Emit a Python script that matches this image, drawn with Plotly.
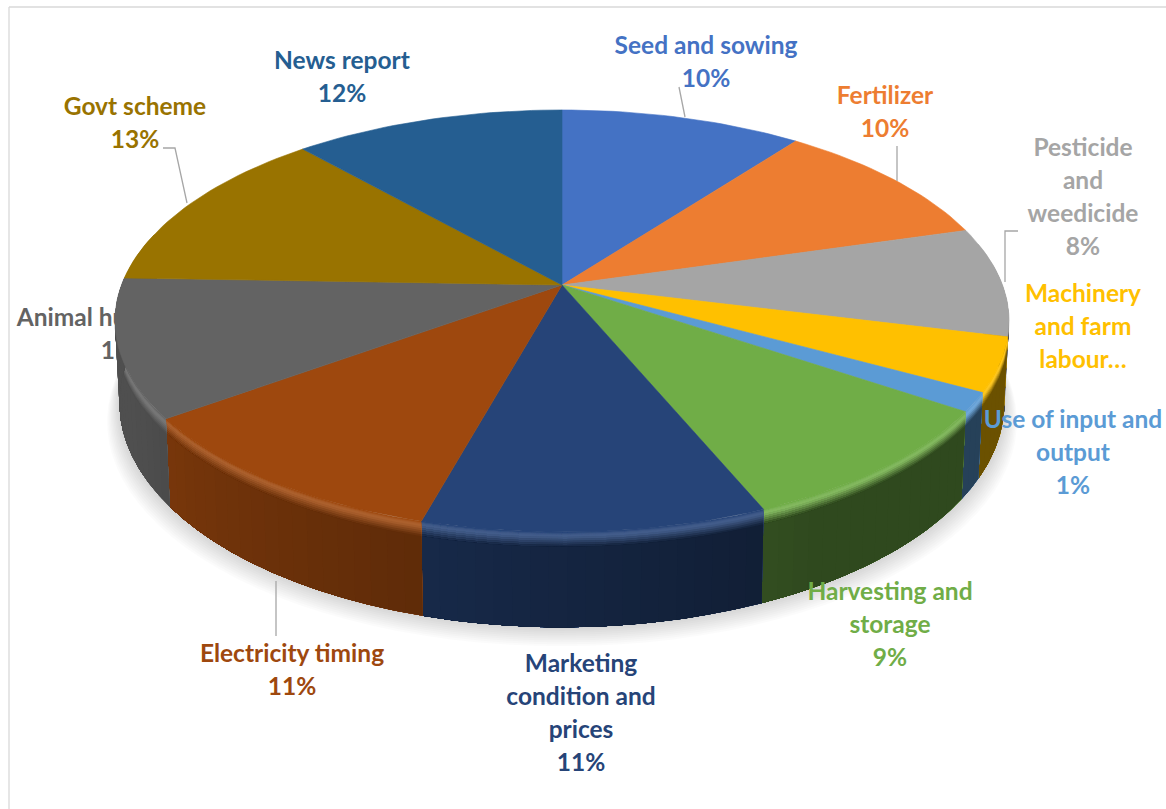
import math
import plotly.graph_objects as go

# Share of each information need, clockwise from twelve o'clock
names = ["Seed and sowing", "Fertilizer", "Pesticide and weedicide",
         "Machinery and farm labour", "Use of input and output",
         "Harvesting and storage", "Marketing condition and prices",
         "Electricity timing", "Animal husbandry", "Govt scheme", "News report"]
values = [10.3, 10.2, 8.4, 4.1, 1.45, 9.25, 10.6, 10.7, 10.55, 12.9, 11.55]
colours = ["#4472C4", "#ED7D31", "#A5A5A5", "#FFC000", "#5B9BD5", "#70AD47",
           "#264478", "#9E480E", "#636363", "#997300", "#255E91"]

# Wrapped name lines for each label
label_lines = [["Seed and sowing"], ["Fertilizer"], ["Pesticide", "and", "weedicide"],
               ["Machinery", "and farm", "labour…"], ["Use of input and", "output"],
               ["Harvesting and", "storage"], ["Marketing", "condition and", "prices"],
               ["Electricity timing"], ["Animal husbandry"], ["Govt scheme"], ["News report"]]
show_percent = [True, True, True, False, True, True, True, True, True, True, True]

# Label anchor: centre x, y of first line (pixels)
label_anchor = [(706, 48), (885, 98), (1083, 150), (1083, 296), (1073, 422), (890, 594),
                (581, 666), (292, 656), (115, 320), (135, 109), (342, 63)]
LINE_H = 32.8
FONT = "Lato"
FONT_SIZE = 24.5

# Leader lines (pixels)
leaders = [[(679, 87), (685, 117)], [(897, 146), (897, 181)],
           [(1018, 231), (1005, 231), (1005, 282)],
           [(163, 148), (175, 148), (187, 203)], [(276, 581), (276, 636)]]

# Perspective of the disc
CX, CY = 562, 285
A, C, B = 440.5, 204.9, 0.1706
DEPTH, XSHRINK = 79, 0.99


def rim(theta, t=0.0):
    """Point on the rim at angle theta; t runs from top face (0) to base (1)."""
    th = math.radians(theta)
    sx, sy = math.sin(th), math.cos(th)
    den = 1 + B * sy
    x0 = CX + A * sx / den
    y0 = CY - C * sy / den
    x1 = CX + A * XSHRINK * sx / den
    y1 = y0 + DEPTH / den
    return x0 + (x1 - x0) * t, y0 + (y1 - y0) * t


def depth_t(theta, d):
    return d / (DEPTH / (1 + B * math.cos(math.radians(theta))))


def rgb(h):
    return [int(h[i:i + 2], 16) for i in (1, 3, 5)]


def mix(c1, c2, k):
    return [c1[i] + (c2[i] - c1[i]) * k for i in range(3)]


def css(c):
    return "rgb(%d,%d,%d)" % tuple(round(v) for v in c)


def side_factor(theta):
    if theta <= 150:
        return 0.42
    if theta >= 245:
        return 0.80
    return 0.42 + (theta - 150) / 95 * 0.38


def side_colour(base, theta, d):
    side = [v * side_factor(theta) for v in base]
    glow = mix(base, [255, 255, 255], 0.13)
    if d < 3:
        return mix(base, glow, d / 3)
    if d < 5:
        return glow
    if d < 15:
        return mix(glow, side, (d - 5) / 10)
    return side


def polygon(xs, ys, fill, line=None):
    return go.Scatter(x=xs, y=ys, mode="lines", fill="toself", fillcolor=fill,
                      line=dict(color=line or "rgba(0,0,0,0)", width=0.6 if line else 0),
                      hoverinfo="skip", showlegend=False)


def text_trace(xs, ys, texts, colour):
    return go.Scatter(x=xs, y=ys, text=texts, mode="text", textposition="middle center",
                      textfont=dict(family=FONT, size=FONT_SIZE, color=colour, weight="bold"),
                      hoverinfo="skip", showlegend=False)


def label_trace(i):
    cx, y = label_anchor[i]
    lines = list(label_lines[i])
    if show_percent[i]:
        lines.append("%d%%" % round(values[i]))
    ys = [y + LINE_H * k for k in range(len(lines))]
    return text_trace([cx] * len(lines), ys, lines, colours[i])


fig = go.Figure()

# Soft shadow beneath the base
thetas = [k * 3 for k in range(121)]
for k in range(1, 11):
    xs, ys = [], []
    for th in thetas:
        x, y = rim(th, 1)
        xs.append(CX + (x - CX) * (1 + k * 0.0028))
        ys.append(y + k * 1.9)
    fig.add_trace(polygon(xs, ys, "rgba(0,0,0,0.016)"))

# The pie sits in front of this label
ANIMAL = names.index("Animal husbandry")
fig.add_trace(text_trace([label_anchor[ANIMAL][0]], [label_anchor[ANIMAL][1]],
                         [names[ANIMAL]], colours[ANIMAL]))
fig.add_trace(text_trace([125], [label_anchor[ANIMAL][1] + LINE_H],
                         ["%d%%" % round(values[ANIMAL])], colours[ANIMAL]))

total = sum(values)
edges = [0.0]
for v in values:
    edges.append(edges[-1] + v / total * 360)


def add_rim_band(base, lo, hi, d0, d_mid, step):
    """Paint one depth band of a slice's rim. Each step reaches to the slice end
    and the base, so later steps overlap earlier ones and no seam shows."""
    n = max(1, round((hi - lo) / step))
    for s in range(n):
        a0 = lo + (hi - lo) * s / n
        am = a0 + (hi - lo) / n / 2
        arc = [a0 + (hi - a0) * k / (n - s) / 2 for k in range(2 * (n - s) + 1)]
        top = [rim(a, depth_t(a, d0)) for a in arc]
        bot = [rim(a, 1.0) for a in arc[::-1]]
        pts = top + bot
        col = css(side_colour(base, am, d_mid))
        fig.add_trace(go.Scatter(x=[p[0] for p in pts] + [pts[0][0]],
                                 y=[p[1] for p in pts] + [pts[0][1]],
                                 mode="lines", fill="toself", fillcolor=col,
                                 line=dict(width=0, color=col),
                                 hoverinfo="skip", showlegend=False))


# Rim of the disc: fine angular steps on the wall, coarser in the bevel
bevel = [0, 1, 2, 3, 5, 7, 9, 11, 13, 15]
for i, hexcol in enumerate(colours):
    base = rgb(hexcol)
    lo, hi = max(edges[i], 78), min(edges[i + 1], 285)
    if hi <= lo:
        continue
    for d0, d1 in zip(bevel[:-1], bevel[1:]):
        add_rim_band(base, lo, hi, d0, (d0 + d1) / 2, 6)
    add_rim_band(base, lo, hi, 15, 100, 2)

# Top face of each slice
for i, hexcol in enumerate(colours):
    n = max(2, int((edges[i + 1] - edges[i]) / 1.5))
    arc = [rim(edges[i] + (edges[i + 1] - edges[i]) * k / n) for k in range(n + 1)]
    fig.add_trace(polygon([CX] + [p[0] for p in arc] + [CX],
                          [CY] + [p[1] for p in arc] + [CY], hexcol, hexcol))

# Leader lines
for pts in leaders:
    fig.add_trace(go.Scatter(x=[p[0] for p in pts], y=[p[1] for p in pts], mode="lines",
                             line=dict(color="#A6A6A6", width=1.3),
                             hoverinfo="skip", showlegend=False))

# Remaining labels
for i in range(len(names)):
    if i != ANIMAL:
        fig.add_trace(label_trace(i))

fig.update_layout(
    width=1166, height=809, margin=dict(l=0, r=0, t=0, b=0),
    paper_bgcolor="white", plot_bgcolor="white", showlegend=False,
    xaxis=dict(range=[0, 1166], visible=False, fixedrange=True),
    yaxis=dict(range=[809, 0], visible=False, fixedrange=True),
    shapes=[dict(type="line", xref="x", yref="y", x0=9, y0=7, x1=1166, y1=7,
                 line=dict(color="#D9D9D9", width=1.3)),
            dict(type="line", xref="x", yref="y", x0=9, y0=7, x1=9, y1=809,
                 line=dict(color="#D9D9D9", width=1.3))],
)
fig.write_html("out.html", config=dict(displayModeBar=False))
